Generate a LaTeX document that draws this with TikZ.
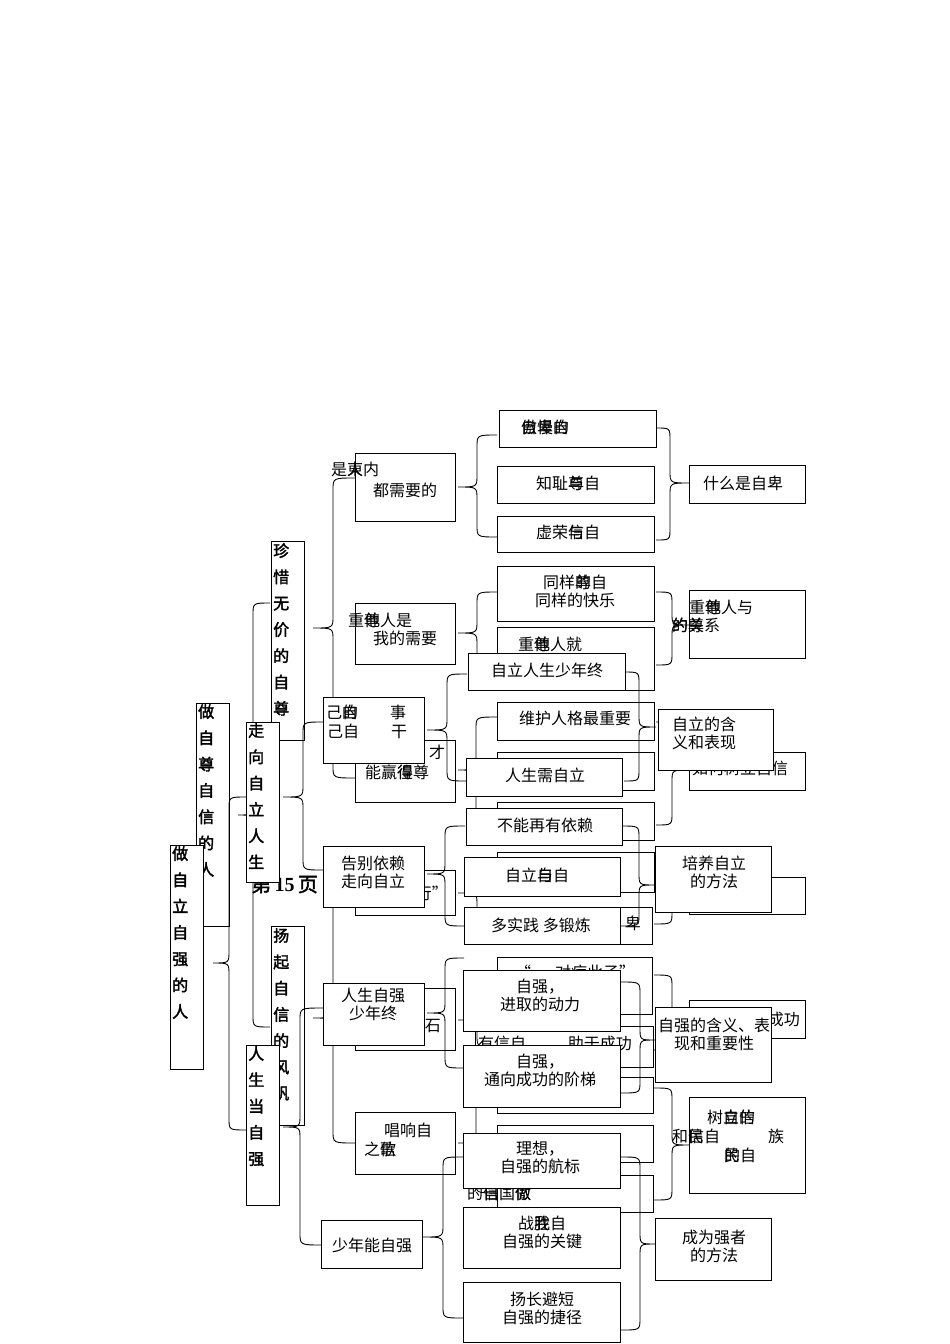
\documentclass[tikz,border=0pt]{standalone}
\usepackage{fontspec}
\setmainfont{Liberation Serif}
\newfontfamily\cjk{Noto Sans CJK SC}
\newfontfamily\cjkb[FakeBold=2]{Noto Sans CJK SC}
\newcommand\B[5]{\node[bx,minimum width={#4-#2},minimum height={#5-#3}] (#1) at (#2,#3) {};}
\newcommand\brc[6]{\draw[ln] (#1,#2) .. controls (#3,#2) .. (#3,{#2+12}) -- (#3,{#5-12}) .. controls (#3,#5) .. (#4,#5) .. controls (#3,#5) .. (#3,{#5+12}) -- (#3,{#6-12}) .. controls (#3,#6) .. (#1,#6);}
\tikzset{
  ln/.style={line width=0.9pt, black},
  bx/.style={draw, line width=0.9pt, fill=white, inner sep=0pt, anchor=north west},
  tx/.style={inner sep=0pt, font=\cjk\fontsize{16}{18}\selectfont, align=center},
  vt/.style={inner sep=0pt, anchor=north west, align=left, font=\cjkb\fontsize{16}{26.3}\selectfont},
}
\begin{document}
\begin{tikzpicture}[x=1pt,y=-1pt]
\path[use as bounding box] (0,0) rectangle (950,1344);
% ================= back layer =================
\B{b1}{499}{410}{656}{447}
\B{b2}{497}{466}{654}{503}
\B{b3}{497}{516}{654}{552}
\B{b4}{689}{465}{805}{503}
\B{b5}{355}{453}{455}{521}
\B{b8}{355}{603}{455}{664}
\B{b9}{497}{566}{654}{621}
\B{b10}{497}{627}{654}{690}
\B{b11}{689}{590}{805}{658}
\B{b12}{355}{740}{455}{802}
\B{b13}{497}{702}{654}{740}
\B{b14}{497}{752}{654}{790}
\B{b15}{497}{802}{654}{840}
\B{b16}{497}{852}{654}{892}
\B{b17}{497}{907}{652}{944}
\B{b18}{497}{957}{652}{1014}
\B{b19}{475}{1026}{653}{1067}
\B{b20}{497}{1077}{653}{1113}
\B{b21}{497}{1125}{653}{1162}
\B{b22}{497}{1175}{653}{1212}
\B{b23}{689}{752}{805}{790}
\B{b24}{689}{877}{805}{914}
\B{b25}{689}{1000}{805}{1038}
\B{b26}{689}{1097}{805}{1193}
\B{b27}{355}{870}{455}{915}
\B{b28}{355}{988}{455}{1050}
\B{b29}{355}{1112}{455}{1174}
\B{b30}{196}{703}{229}{926}
\B{b31}{271}{541}{304}{740}
\B{b32}{271}{926}{304}{1125}
% back texts
\node[vt] (v30) at (198,704) {做\\自\\尊\\自\\信\\的\\人};
\node[vt] (v31) at (273,543) {珍\\惜\\无\\价\\的\\自\\尊};
\node[vt] (v32) at (273,928) {扬\\起\\自\\信\\的\\风\\帆};
\node[tx] (t1) at (545,427) {\rlap{自卑的}傲慢自};
\node[tx] (t2) at (568,483) {知耻\rlap{与}尊自};
\node[tx] (t3) at (568,532) {虚荣\rlap{与}信自};
\node[tx] (t4) at (743,483) {什么是自卑};
\node[tx] (t5) at (405,490) {都需要的};
\node[tx,anchor=west] (t5a) at (331,469) {是\rlap{東}人内};
\node[tx,anchor=west] (t8a) at (348,620) {重\rlap{尊}他人是};
\node[tx] (t8b) at (405,638) {我的需要};
\node[tx] (t9) at (575,591) {同样\rlap{尊}的自\\同样的快乐};
\node[tx] (t10) at (550,644) {重\rlap{尊}他人就};
\node[tx,anchor=west] (t11a) at (689,607) {重\rlap{尊}他人与};
\node[tx,anchor=west] (t11b) at (672,625) {\rlap{约}的\rlap{尊}关系};
\node[tx] (t12a) at (437,752) {才};
\node[tx] (t12b) at (397,772) {能赢\rlap{得}徨尊};
\node[tx] (t13) at (575,718) {维护人格最重要};
\node[tx] (t23) at (740,768) {如何树立自信};
\node[tx,anchor=east] (t27) at (448,893) {自信者行”};
\node[tx,anchor=east] (t17) at (641,923) {自\hspace{0.4em}卑};
\node[tx] (t18) at (575,972) {“\hspace{1.5em}对症此子”};
\node[tx,anchor=east] (t28) at (441,1025) {成功基石};
\node[tx,anchor=west] (t19) at (478,1043) {有信自\hspace{2.6em}助于成功};
\node[tx,anchor=west] (t22) at (467,1193) {的\rlap{自}信国\rlap{傲}做};
\node[tx,anchor=east] (t25) at (800,1019) {自信助成功};
\node[tx,anchor=west] (t26a) at (707,1117) {树\rlap{自}立\rlap{信}的};
\node[tx,anchor=west] (t26b) at (672,1136) {和\rlap{民}信自\hspace{3em}族};
\node[tx] (t26c) at (740,1155) {\rlap{民}的自};
\node[tx] (t29a) at (408,1130) {唱响自};
\node[tx,anchor=west] (t29b) at (364,1149) {之\rlap{信}歌};
% back braces
\brc{270}{603}{253}{238}{815}{1027}
\brc{355}{478}{333}{313}{628}{778}
\brc{497}{435}{477}{458}{487}{537}
\brc{656}{428}{670}{689}{483}{540}
\brc{497}{592}{477}{458}{633}{668}
\brc{656}{592}{672}{689}{625}{665}
\brc{497}{717}{476}{458}{770}{822}
\brc{656}{722}{672}{689}{770}{825}
\brc{497}{866}{477}{458}{893}{922}
\brc{654}{866}{672}{689}{895}{924}
\brc{355}{888}{333}{313}{1018}{1143}
\brc{497}{985}{477}{458}{1020}{1047}
\brc{654}{975}{672}{689}{1019}{1050}
\brc{654}{1088}{672}{689}{1145}{1200}
\brc{497}{1095}{476}{458}{1143}{1193}
\node[inner sep=0pt,anchor=west,font=\cjkb\fontsize{20}{22}\selectfont] (page) at (251,884) {第\,{\rmfamily\bfseries 15}\,页};
% ================= front layer =================
\brc{246}{797}{229}{213}{963}{1130}
\brc{323}{722}{303}{283}{797}{870}
\brc{323}{1008}{300}{283}{1127}{1245}
\brc{467}{674}{447}{427}{730}{781}
\brc{624}{672}{639}{656}{727}{781}
\brc{465}{826}{445}{427}{874}{926}
\brc{621}{826}{639}{655}{885}{926}
\brc{464}{958}{445}{427}{1013}{1068}
\brc{621}{982}{640}{655}{1040}{1093}
\brc{463}{1157}{443}{423}{1237}{1318}
\brc{621}{1157}{640}{655}{1244}{1330}
\B{f0}{170}{845}{203}{1069}
\B{f1}{246}{722}{279}{882}
\B{f2}{246}{1045}{279}{1205}
\B{f3}{323}{697}{424}{763}
\B{f4}{323}{846}{424}{907}
\B{f5}{323}{983}{424}{1045}
\B{f6}{321}{1220}{422}{1268}
\B{f7}{468}{653}{625}{690}
\B{f8}{466}{758}{622}{796}
\B{f9}{466}{808}{622}{845}
\B{f10}{464}{857}{620}{896}
\B{f11}{464}{907}{620}{944}
\B{f12}{463}{970}{620}{1031}
\B{f13}{463}{1045}{620}{1107}
\B{f14}{463}{1133}{620}{1188}
\B{f15}{463}{1207}{620}{1268}
\B{f16}{463}{1282}{620}{1342}
\B{f17}{658}{709}{773}{770}
\B{f18}{655}{846}{771}{912}
\B{f19}{655}{1007}{771}{1082}
\B{f20}{655}{1218}{771}{1280}
\node[vt] (v0) at (172,846) {做\\自\\立\\自\\强\\的\\人};
\node[vt] (v1) at (248,723) {走\\向\\自\\立\\人\\生};
\node[vt] (v2) at (248,1046) {人\\生\\当\\自\\强};
\node[tx] (s3a) at (366,712) {己\rlap{自}的\hspace{2em}事};
\node[tx] (s3b) at (367,731) {己自\hspace{2em}干};
\node[tx] (s4) at (373,872) {告别依赖\\走向自立};
\node[tx] (s5) at (373,1004) {人生自强\\少年终};
\node[tx] (s6) at (372,1245) {少年能自强};
\node[tx] (s7) at (547,670) {自立人生少年终};
\node[tx] (s8) at (545,775) {人生需自立};
\node[tx] (s9) at (545,825) {不能再有依赖};
\node[tx] (s10) at (537,875) {自立\rlap{自}与自};
\node[tx] (s11) at (541,925) {多实践\ 多锻炼};
\node[tx] (s12) at (540,995) {自强，\\进取的动力};
\node[tx] (s13) at (540,1070) {自强，\\通向成功的阶梯};
\node[tx] (s14) at (540,1157) {理想，\\自强的航标};
\node[tx] (s15) at (542,1232) {战\rlap{我}胜自\\自强的关键};
\node[tx] (s16) at (542,1308) {扬长避短\\自强的捷径};
\node[tx,align=left,anchor=north west] (s17) at (672,717) {自立的含\\义和表现};
\node[tx] (s18) at (714,872) {培养自立\\的方法};
\node[tx] (s19) at (714,1034) {自强的含义、表\\现和重要性};
\node[tx] (s20) at (714,1246) {成为强者\\的方法};
\end{tikzpicture}
\end{document}
